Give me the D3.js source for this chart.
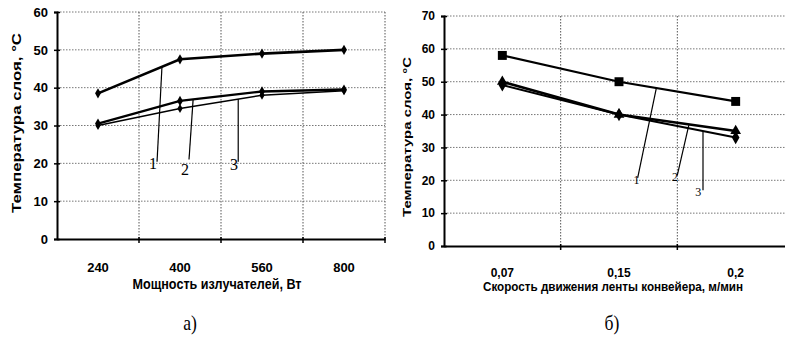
<!DOCTYPE html>
<html><head><meta charset="utf-8">
<script src="https://cdn.jsdelivr.net/npm/d3@7/dist/d3.min.js"></script>
<style>
body{margin:0;background:#fff;}
svg{display:block;}
.tick text{font-family:"Liberation Sans Narrow","Arial Narrow","Liberation Sans",sans-serif;font-weight:bold;}
</style></head>
<body>
<svg id="c" width="785" height="337"></svg>
<script>
// ---- Data: chart (а) ----
const powerCats = ["240", "400", "560", "800"];
const powerS1 = [38.5, 47.5, 49, 50];
const powerS2 = [30.5, 36.5, 39, 39.5];
const powerS3 = [30, 34.5, 38, 39.2];
const powerYTicks = [0, 10, 20, 30, 40, 50, 60];

// ---- Data: chart (б) ----
const speedCats = ["0,07", "0,15", "0,2"];
const speedS1 = [58, 50, 44];
const speedS2 = [50, 40, 35];
const speedS3 = [49, 40, 33];
const speedYTicks = [0, 10, 20, 30, 40, 50, 60, 70];

const seriesNames = ["1", "2", "3"];

const svg = d3.select("#c");
const narrow = '"Liberation Sans Narrow","Arial Narrow","Liberation Sans",sans-serif';
const serif = '"Liberation Serif","DejaVu Serif",serif';

function drawChart(o) {
  const g = svg.append("g");
  const x = d3.scaleBand().domain(o.cats).range([o.x0, o.x1]).padding(0);
  const y = d3.scaleLinear().domain([0, o.ymax]).range([o.y0, o.y1]);
  const cx = (i, f) => x(o.cats[i]) + x.bandwidth() / 2 + f * x.bandwidth();

  // horizontal grid
  g.append("g").selectAll("line").data(o.yTicks.filter(d => d > 0)).join("line")
    .attr("x1", o.x0).attr("x2", Math.min(o.x1, 785)).attr("y1", d => y(d)).attr("y2", d => y(d))
    .attr("stroke", "#777").attr("stroke-width", 1).attr("stroke-dasharray", "1.5,1.5");
  // vertical grid at band boundaries
  const bounds = o.cats.map(c => x(c) + x.bandwidth()).filter(v => v <= 785);
  g.append("g").selectAll("line").data(bounds).join("line")
    .attr("x1", d => d).attr("x2", d => d).attr("y1", y(o.ymax)).attr("y2", y(0))
    .attr("stroke", "#555").attr("stroke-width", 1).attr("stroke-dasharray", "1.5,1.5");

  // y axis
  const ya = d3.axisLeft(y).tickValues(o.yTicks).tickSize(3).tickPadding(o.yPad).tickFormat(d3.format("d"));
  const yg = g.append("g").attr("transform", `translate(${o.x0},0)`).call(ya);
  yg.select(".domain").attr("stroke", "#000").attr("stroke-width", 2);
  yg.selectAll(".tick line").attr("stroke", "#000").attr("x2", 3).attr("x1", -3).attr("stroke-width", 1.5);
  yg.selectAll(".tick text").attr("font-size", o.tickFont).attr("fill", "#000");

  // x axis
  const xa = d3.axisBottom(x).tickSize(0).tickPadding(o.xPad);
  const xg = g.append("g").attr("transform", `translate(0,${o.y0})`).call(xa);
  xg.select(".domain").attr("stroke", "#000").attr("stroke-width", 2.2);
  xg.selectAll(".tick text").attr("font-size", o.tickFont).attr("fill", "#000");
  xg.append("g").selectAll("line").data(bounds).join("line")
    .attr("x1", d => d).attr("x2", d => d).attr("y1", -2).attr("y2", 4)
    .attr("stroke", "#000").attr("stroke-width", 1.5);

  // series
  const line = d3.line().x((d, i) => cx(i, 0)).y(d => y(d));
  o.series.forEach((s, k) => {
    g.append("path").datum(s.values).attr("d", line)
      .attr("fill", "none").attr("stroke", "#000").attr("stroke-width", s.w);
    const sym = d3.symbol().type(s.sym).size(s.size);
    g.append("g").selectAll("path").data(s.values).join("path")
      .attr("d", sym).attr("transform", (d, i) => `translate(${cx(i, 0)},${y(d)})`)
      .attr("fill", "#000");
  });

  // leader lines and labels
  o.leaders.forEach((L, k) => {
    const vals = o.series[k].values;
    const topV = vals[L.i] + (vals[L.i + 1] - vals[L.i]) * L.f;
    g.append("line")
      .attr("x1", cx(L.i, L.f)).attr("y1", y(topV))
      .attr("x2", cx(L.bi, L.bf)).attr("y2", y(L.bv))
      .attr("stroke", "#000").attr("stroke-width", 1.2);
    g.append("text").text(seriesNames[k])
      .attr("x", cx(L.bi, L.lf)).attr("y", y(L.lv))
      .attr("text-anchor", "middle").attr("dominant-baseline", "middle")
      .attr("font-family", serif).attr("font-size", o.labFont).attr("fill", "#000");
  });

  // axis titles
  g.append("text").text("Температура слоя, °С")
    .attr("transform", `translate(${o.ytX},${o.ytY}) rotate(-90)`)
    .attr("text-anchor", "middle").attr("dominant-baseline", "middle")
    .attr("font-family", '"Liberation Sans",Arial,sans-serif').attr("font-weight", "bold")
    .attr("font-size", o.ytFont).attr("textLength", o.ytLen).attr("lengthAdjust", "spacingAndGlyphs");
  g.append("text").text(o.xTitle)
    .attr("x", o.xtX).attr("y", o.xtY)
    .attr("text-anchor", "middle").attr("dominant-baseline", "middle")
    .attr("font-family", narrow).attr("font-weight", "bold")
    .attr("font-size", o.xtFont).attr("textLength", o.xtLen).attr("lengthAdjust", "spacingAndGlyphs");
  g.append("text").text(o.caption)
    .attr("x", o.capX).attr("y", 325)
    .attr("text-anchor", "middle").attr("dominant-baseline", "middle")
    .attr("font-family", serif).attr("font-size", 22)
    .attr("transform", `translate(${o.capX},325) scale(0.8,1) translate(${-o.capX},-325)`);
}

drawChart({
  cats: powerCats, x0: 57, x1: 385, y0: 239, y1: 12, ymax: 60, yTicks: powerYTicks,
  yPad: 6, xPad: 24, tickFont: 13,
  series: [
    {values: powerS1, sym: d3.symbolDiamond, size: 30, w: 2.6},
    {values: powerS2, sym: d3.symbolDiamond, size: 30, w: 2.4},
    {values: powerS3, sym: d3.symbolDiamond, size: 24, w: 1.6}
  ],
  leaders: [
    {i: 0, f: 0.78, bi: 0, bf: 0.72, bv: 20.4, lf: 0.67, lv: 19.5},
    {i: 1, f: 0.16, bi: 1, bf: 0.11, bv: 21, lf: 0.06, lv: 17.8},
    {i: 1, f: 0.71, bi: 1, bf: 0.71, bv: 20.4, lf: 0.66, lv: 19.2}
  ],
  labFont: 16,
  ytX: 18, ytY: 123, ytFont: 13, ytLen: 180,
  xTitle: "Мощность излучателей, Вт", xtX: 217, xtY: 285, xtFont: 14, xtLen: 169,
  caption: "а)", capX: 190
});

drawChart({
  cats: speedCats, x0: 444, x1: 794, y0: 246, y1: 16, ymax: 70, yTicks: speedYTicks,
  yPad: 6, xPad: 22, tickFont: 12,
  series: [
    {values: speedS1, sym: d3.symbolSquare, size: 80, w: 2.2},
    {values: speedS2, sym: d3.symbolTriangle, size: 50, w: 2.6},
    {values: speedS3, sym: d3.symbolDiamond, size: 50, w: 2.0}
  ],
  leaders: [
    {i: 1, f: 0.32, bi: 1, bf: 0.16, bv: 20.7, lf: 0.15, lv: 19.8},
    {i: 1, f: 0.60, bi: 1, bf: 0.50, bv: 21.6, lf: 0.48, lv: 20.5},
    {i: 1, f: 0.72, bi: 1, bf: 0.72, bv: 17, lf: 0.68, lv: 16}
  ],
  labFont: 12,
  ytX: 408, ytY: 137, ytFont: 11, ytLen: 160,
  xTitle: "Скорость движения ленты конвейера, м/мин", xtX: 613, xtY: 288, xtFont: 12, xtLen: 260,
  caption: "б)", capX: 612
});
</script>
</body></html>
